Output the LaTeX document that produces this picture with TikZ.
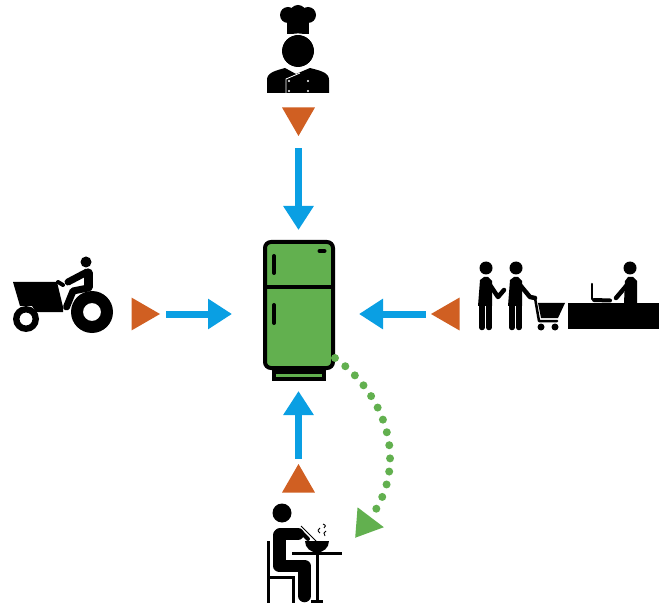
\documentclass[tikz,border=0pt]{standalone}
\usepackage{tikz}
\usetikzlibrary{positioning}
\usetikzlibrary{calc}
\usetikzlibrary{arrows.meta}
\usetikzlibrary{shapes.geometric}
\definecolor{markorange}{HTML}{D05F22}
\definecolor{flowblue}{HTML}{0A9FE3}
\definecolor{fridgegreen}{HTML}{62B04F}
\tikzset{
	mark3/.style = {regular polygon,regular polygon sides = 3,minimum size = 38pt,inner sep = 0pt,fill = markorange},
	flow/.style = {draw = flowblue,line width = 7pt,-{Triangle[length = 24pt,width = 29pt]}},
	limb/.style = {draw = black,line join = round,line cap = round},
	fridgepart/.style = {draw = black,fill = fridgegreen,line width = 4pt,inner sep = 0pt}
}
\begin{document}
\begin{tikzpicture}[x = 1pt,y = -1pt]
		\useasboundingbox (0,0) rectangle (659,604);
		\node[fridgepart,rounded corners = 6pt,minimum width = 68pt,minimum height = 126pt] at (299,305) (fridge) {};
		\node[below = 0pt of fridge,fridgepart,line width = 3.5pt,minimum width = 50pt,minimum height = 7pt] (fridgebase) {};
		\draw[line width = 4pt] (fridge.west |- 0,287) -- (fridge.east |- 0,287);
		\draw[limb,line width = 4pt] (274,256) -- (274,273);
		\draw[limb,line width = 4pt] (274,305) -- (274,323);
		\draw[limb,line width = 4pt] (319.5,251) -- (324.5,251);
		\node[mark3,shape border rotate = 180] at (298.5,117) (markchef) {};
		\node[mark3,shape border rotate = -90] at (141,314) (markfarm) {};
		\node[mark3,shape border rotate = 90] at (450,314) (markshop) {};
		\node[mark3] at (298.5,483) (markdiner) {};
		\draw[flow,shorten <= 12pt,shorten >= 10pt] (markchef.corner 1) -- (markchef.corner 1 |- fridge.north);
		\draw[flow,shorten <= 6pt,shorten >= 31pt] (markfarm.corner 1) -- (markfarm.corner 1 -| fridge.west);
		\draw[flow,shorten <= 5pt,shorten >= 24pt] (markshop.corner 1) -- (markshop.corner 1 -| fridge.east);
		\draw[flow,shorten <= 5pt,shorten >= 21pt] (markdiner.corner 1) -- (markdiner.corner 1 |- fridge.south);
		\coordinate (wastestart) at (335,358);
		\coordinate (wasteend) at (355,538);
		\draw[draw = fridgegreen,line width = 8pt,line cap = round,dash pattern = on 0pt off 13.2pt,-{Triangle[length = 26pt,width = 31pt,fill = fridgegreen]}] (wastestart) .. controls (390,398) and (408,468) .. (wasteend);
		\fill (298,51) circle (16);
		\fill (288,15) circle (8);
		\fill (298,13) circle (8);
		\fill (308,15) circle (8);
		\fill (287,15) rectangle (309,34);
		\draw[white,line width = 1.2pt] (298,51) circle (17);
		\fill (267,93) -- (267,80) .. controls (267,73) and (274,71) .. (285,68) -- (296,74) -- (310,68) .. controls (322,71) and (329,73) .. (329,80) -- (329,93) -- cycle;
		\draw[white,line width = .8pt] (286,93) -- (286,79) -- (300,73);
		\foreach \bx in {289,308}
			\foreach \by in {81,91}
				\fill[white] (\bx,\by) circle (1.2);
		\fill (13,282) -- (57,282) -- (63,307) -- (63,312) -- (36,312) -- (32,306) -- (20,306) -- cycle;
		\fill[even odd rule] (26,319) circle (13) (26,319) circle (6.5);
		\fill[even odd rule] (92,312) circle (21) (92,312) circle (9);
		\fill (86,262) circle (5.5);
		\draw[limb,line width = 7pt] (68,282) -- (87,272);
		\draw[limb,line width = 9pt] (88,273) -- (88,287);
		\draw[limb,line width = 7pt] (88,288) -- (73,291) -- (66.5,307);
		\draw[limb,line width = 4pt] (58,282) -- (63,285);
		\fill (486,268) circle (6.5);
		\fill (516,268) circle (6.5);
		\fill (630,268) circle (6.5);
		\fill (478,306) -- (480,280) -- (484,277) -- (488,277) -- (492,281) -- (492,306) -- cycle;
		\fill (508,306) -- (510,280) -- (514,277) -- (518,277) -- (522,281) -- (522,306) -- cycle;
		\foreach \px in {482,489,512,519}
			\draw[limb,line width = 5.5pt] (\px,304) -- (\px,327.5);
		\draw[limb,line width = 4.5pt] (490,285) -- (498,297) -- (504,290);
		\draw[limb,line width = 4.5pt] (520,285) -- (530,297) -- (535,298);
		\draw[limb,line width = 2.5pt] (535,298) -- (539,321) -- (557,321);
		\fill (538,303) -- (565,303) -- (558,318) -- (541,318) -- cycle;
		\fill (541,327) circle (3.5);
		\fill (555,327) circle (3.5);
		\fill (568,303) rectangle (659,329);
		\draw[limb,line width = 2.5pt] (592,284) -- (592,299);
		\draw[limb,line width = 4pt] (594,300) -- (610,300.5);
		\fill (624,303) -- (625,281) -- (628,277) -- (633,277) -- (637,281) -- (637,303) -- cycle;
		\draw[limb,line width = 4.5pt] (627,285) -- (616,298);
		\fill (282,513) circle (9.5);
		\draw[limb,line width = 12.5pt] (279.5,535) -- (279.5,566) -- (304.5,566) -- (304.5,596);
		\draw[limb,line width = 12pt] (280,534) -- (298,534);
		\draw[limb,line width = 4pt] (300,531) -- (308,539);
		\draw[line width = 1pt] (301,526) -- (317,542);
		\draw[line width = 3pt] (268.5,541) -- (268.5,603);
		\draw[line width = 3pt] (268.5,577) -- (293.5,577) -- (293.5,603);
		\draw[line width = 3pt] (292,553.5) -- (342,553.5);
		\draw[line width = 3pt] (317,553) -- (317,601);
		\draw[line width = 3pt] (311,601.5) -- (323,601.5);
		\fill (305,541) -- (329,541) .. controls (329,548) and (323,552.5) .. (317,552.5) .. controls (311,552.5) and (305,548) .. (305,541) -- cycle;
		\draw[line width = .9pt] (320,533) .. controls (317,531) and (318,529) .. (320,528);
		\draw[line width = .9pt] (325,536) .. controls (323,534) and (324,532) .. (326,531);
		\draw[line width = .9pt] (323,524) .. controls (326,525) and (326,527) .. (324,528);
	\end{tikzpicture}
\end{document}
